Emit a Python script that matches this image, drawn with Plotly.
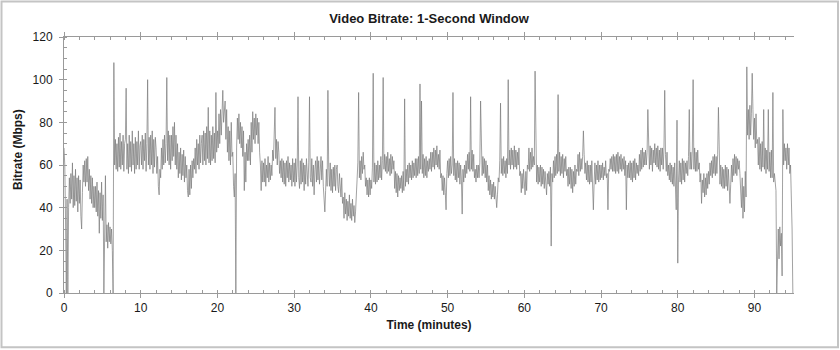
import plotly.graph_objects as go

# ---- data ----
SAMPLE_STEP_MIN = 0.1   # one value every 0.1 minute
bitrate_mbps = [
    68, 60, 35, 0, 44, 0, 40, 54, 42, 56, 44, 61, 40, 55, 41, 58, 43, 54, 38, 55,      # 0-2
    42, 53, 36, 30, 47, 60, 52, 62, 50, 63, 52, 64, 48, 58, 44, 55, 42, 54, 40, 50,    # 2-4
    40, 50, 38, 52, 36, 48, 28, 47, 35, 52, 34, 46, 0, 32, 55, 24, 32, 21, 33, 24,     # 4-6
    31, 23, 30, 20, 0, 108, 60, 72, 58, 70, 57, 73, 59, 75, 58, 71, 60, 74, 57, 70,    # 6-8
    72, 96, 58, 70, 56, 74, 59, 71, 57, 76, 60, 70, 56, 73, 58, 71, 60, 76, 58, 69,    # 8-10
    71, 60, 74, 58, 72, 62, 75, 57, 70, 100, 60, 73, 58, 74, 60, 76, 56, 72, 59, 73,   # 10-12
    68, 56, 64, 50, 46, 58, 54, 68, 58, 72, 60, 74, 61, 70, 101, 62, 76, 60, 74, 58,   # 12-14
    74, 62, 78, 64, 80, 60, 74, 58, 70, 54, 66, 56, 68, 53, 65, 55, 67, 52, 64, 54,    # 14-16
    60, 48, 45, 58, 46, 60, 49, 62, 54, 63, 58, 68, 56, 72, 60, 70, 58, 74, 61, 70,    # 16-18
    74, 60, 76, 62, 75, 60, 78, 63, 87, 61, 76, 60, 74, 62, 78, 63, 75, 61, 94, 66,    # 18-20
    76, 68, 84, 70, 86, 74, 92, 95, 80, 86, 90, 72, 86, 66, 78, 62, 76, 60, 80, 64,    # 20-22
    66, 50, 45, 56, 0, 68, 82, 72, 84, 70, 80, 68, 78, 64, 76, 48, 66, 52, 70, 62,     # 22-24
    72, 62, 74, 60, 80, 66, 85, 72, 82, 70, 84, 74, 82, 70, 80, 66, 60, 48, 62, 52,    # 24-26
    61, 52, 63, 50, 60, 54, 64, 52, 61, 53, 60, 55, 67, 62, 71, 87, 63, 72, 60, 71,    # 26-28
    66, 56, 62, 54, 63, 52, 62, 51, 61, 50, 62, 54, 64, 52, 61, 53, 60, 50, 63, 52,    # 28-30
    61, 50, 63, 52, 60, 92, 54, 49, 62, 51, 63, 52, 61, 48, 60, 51, 63, 52, 50, 61,    # 30-32
    92, 54, 52, 63, 50, 60, 46, 58, 62, 52, 64, 53, 62, 51, 61, 64, 53, 62, 50, 44,    # 32-34
    38, 48, 58, 50, 95, 59, 50, 61, 48, 58, 47, 59, 50, 60, 48, 58, 60, 50, 47, 56,    # 34-36
    52, 45, 54, 42, 45, 35, 47, 37, 44, 34, 43, 36, 46, 35, 42, 34, 44, 36, 41, 33,    # 36-38
    38, 50, 53, 61, 94, 54, 62, 53, 64, 56, 66, 58, 60, 50, 54, 46, 53, 45, 54, 46,    # 38-40
    53, 49, 59, 103, 52, 61, 51, 60, 52, 62, 53, 60, 54, 64, 53, 62, 101, 58, 65, 57,  # 40-42
    64, 56, 66, 57, 63, 55, 65, 56, 64, 58, 62, 49, 57, 47, 56, 45, 55, 48, 54, 49,    # 42-44
    55, 47, 57, 48, 91, 50, 58, 52, 60, 51, 61, 54, 60, 53, 62, 54, 61, 55, 63, 54,    # 44-46
    63, 55, 64, 56, 98, 58, 90, 56, 65, 54, 63, 55, 64, 54, 62, 57, 63, 58, 66, 57,    # 46-48
    66, 59, 68, 58, 67, 60, 69, 59, 65, 58, 67, 54, 56, 48, 55, 46, 54, 47, 39, 56,    # 48-50
    62, 54, 63, 55, 64, 56, 60, 94, 55, 63, 53, 61, 52, 62, 54, 61, 51, 60, 53, 37,    # 50-52
    58, 52, 60, 54, 62, 56, 65, 58, 66, 57, 92, 58, 67, 57, 65, 54, 58, 52, 60, 54,    # 52-54
    60, 54, 61, 90, 63, 55, 64, 56, 63, 54, 62, 52, 60, 48, 55, 46, 53, 44, 51, 45,    # 54-56
    52, 44, 50, 42, 40, 46, 54, 52, 62, 89, 56, 63, 55, 64, 56, 62, 54, 63, 56, 100,   # 56-58
    60, 67, 58, 68, 60, 67, 58, 69, 59, 67, 58, 66, 60, 68, 55, 57, 47, 56, 49, 58,    # 58-60
    50, 46, 57, 48, 60, 58, 68, 57, 66, 58, 68, 59, 64, 60, 104, 58, 52, 60, 51, 59,   # 60-62
    52, 60, 50, 59, 51, 58, 49, 57, 47, 46, 56, 51, 57, 50, 59, 22, 56, 52, 62, 54,    # 62-64
    64, 55, 65, 56, 93, 57, 66, 55, 64, 56, 65, 54, 63, 57, 64, 55, 58, 50, 59, 51,    # 64-66
    59, 49, 58, 47, 57, 50, 60, 51, 58, 57, 65, 55, 66, 57, 63, 58, 64, 76, 65, 56,    # 66-68
    61, 53, 62, 52, 60, 51, 60, 52, 62, 53, 39, 52, 61, 51, 60, 53, 62, 52, 60, 53,    # 68-70
    60, 54, 61, 53, 59, 55, 62, 54, 56, 39, 58, 57, 63, 58, 64, 57, 65, 57, 64, 56,    # 70-72
    65, 57, 66, 56, 64, 58, 65, 57, 63, 58, 64, 55, 62, 39, 60, 54, 61, 54, 62, 53,    # 72-74
    61, 52, 62, 54, 63, 53, 61, 56, 60, 55, 65, 57, 67, 58, 68, 59, 66, 60, 67, 60,    # 74-76
    66, 86, 67, 58, 69, 60, 68, 57, 67, 61, 70, 60, 68, 59, 69, 58, 67, 57, 68, 60,    # 76-78
    68, 58, 68, 95, 65, 57, 66, 55, 60, 53, 61, 52, 60, 51, 59, 50, 61, 51, 39, 81,    # 78-80
    14, 53, 62, 52, 61, 51, 63, 53, 62, 52, 61, 56, 62, 55, 64, 86, 58, 66, 58, 67,    # 80-82
    100, 58, 68, 57, 66, 57, 67, 58, 61, 52, 56, 42, 53, 47, 56, 45, 54, 46, 56, 49,   # 82-84
    57, 51, 61, 55, 62, 54, 64, 56, 65, 55, 64, 56, 65, 87, 60, 51, 60, 50, 59, 49,    # 84-86
    58, 49, 60, 50, 59, 48, 58, 49, 42, 51, 60, 52, 63, 55, 65, 56, 64, 55, 63, 58,    # 86-88
    62, 56, 48, 40, 54, 35, 50, 38, 57, 45, 106, 74, 86, 72, 88, 74, 84, 103, 86, 72,  # 88-90
    82, 68, 84, 70, 72, 60, 73, 58, 70, 57, 71, 59, 86, 58, 68, 56, 67, 58, 86, 57,    # 90-92
    66, 54, 67, 54, 94, 52, 56, 50, 48, 0, 22, 30, 16, 31, 22, 28, 8, 86, 60, 70,      # 92-94
    62, 68, 58, 70, 60, 68, 56, 60, 45, 30, 0,                                         # 94-95
]
time_min = [round(i * SAMPLE_STEP_MIN, 1) for i in range(len(bitrate_mbps))]

x_ticks = [0, 10, 20, 30, 40, 50, 60, 70, 80, 90]
y_ticks = [0, 20, 40, 60, 80, 100, 120]

FONT = "Liberation Sans, Arial, sans-serif"
AXIS_COLOR = "#9a9a9a"
TEXT_COLOR = "#1a1a1a"

fig = go.Figure()
fig.add_trace(go.Scatter(
    x=time_min, y=bitrate_mbps, mode="lines",
    line=dict(color="#7a7a7a", width=0.7),
    hoverinfo="skip", showlegend=False,
))

common_y = dict(
    range=[0, 120], tickvals=y_ticks, showgrid=False, zeroline=False,
    showline=True, linecolor=AXIS_COLOR, linewidth=1,
    ticks="outside", ticklen=4, tickcolor=AXIS_COLOR, tickwidth=1,
    tickfont=dict(family=FONT, size=12, color=TEXT_COLOR),
    minor=dict(dtick=5, ticks="inside", ticklen=3, tickcolor=AXIS_COLOR, showgrid=False),
    fixedrange=True,
)

fig.update_layout(
    width=840, height=350,
    margin=dict(l=64, r=46, t=37, b=57),
    paper_bgcolor="white", plot_bgcolor="white",
    title=dict(text="<b>Video Bitrate: 1-Second Window</b>", x=0.5, xref="paper",
               xanchor="center", y=0.946, yref="container", yanchor="middle",
               font=dict(family=FONT, size=13, color=TEXT_COLOR)),
    xaxis=dict(
        range=[0, 95.15], tickvals=x_ticks, showgrid=False, zeroline=False,
        showline=True, linecolor=AXIS_COLOR, linewidth=1, mirror="allticks",
        ticks="outside", ticklen=4, tickcolor=AXIS_COLOR, tickwidth=1,
        tickfont=dict(family=FONT, size=12, color=TEXT_COLOR),
        minor=dict(dtick=2, ticks="inside", ticklen=3, tickcolor=AXIS_COLOR, showgrid=False),
        title=dict(text="<b>Time (minutes)</b>", standoff=6,
                   font=dict(family=FONT, size=12, color=TEXT_COLOR)),
        fixedrange=True,
    ),
    yaxis=dict(**common_y, side="left", ticklabelstandoff=4),
    yaxis2=dict(**common_y, side="right", overlaying="y", anchor="x", ticklabelstandoff=8),
    shapes=[dict(type="rect", xref="paper", yref="paper",
                 x0=-0.0856, x1=1.0603, y0=-0.2115, y1=1.139,
                 line=dict(color="#c4c4c4", width=2), layer="below")],
    annotations=[dict(text="<b>Bitrate (Mbps)</b>", textangle=-90,
                      xref="paper", yref="paper", x=-0.064, y=0.56,
                      xanchor="center", yanchor="middle", showarrow=False,
                      font=dict(family=FONT, size=12, color=TEXT_COLOR))],
)

fig.write_html("out.html")
